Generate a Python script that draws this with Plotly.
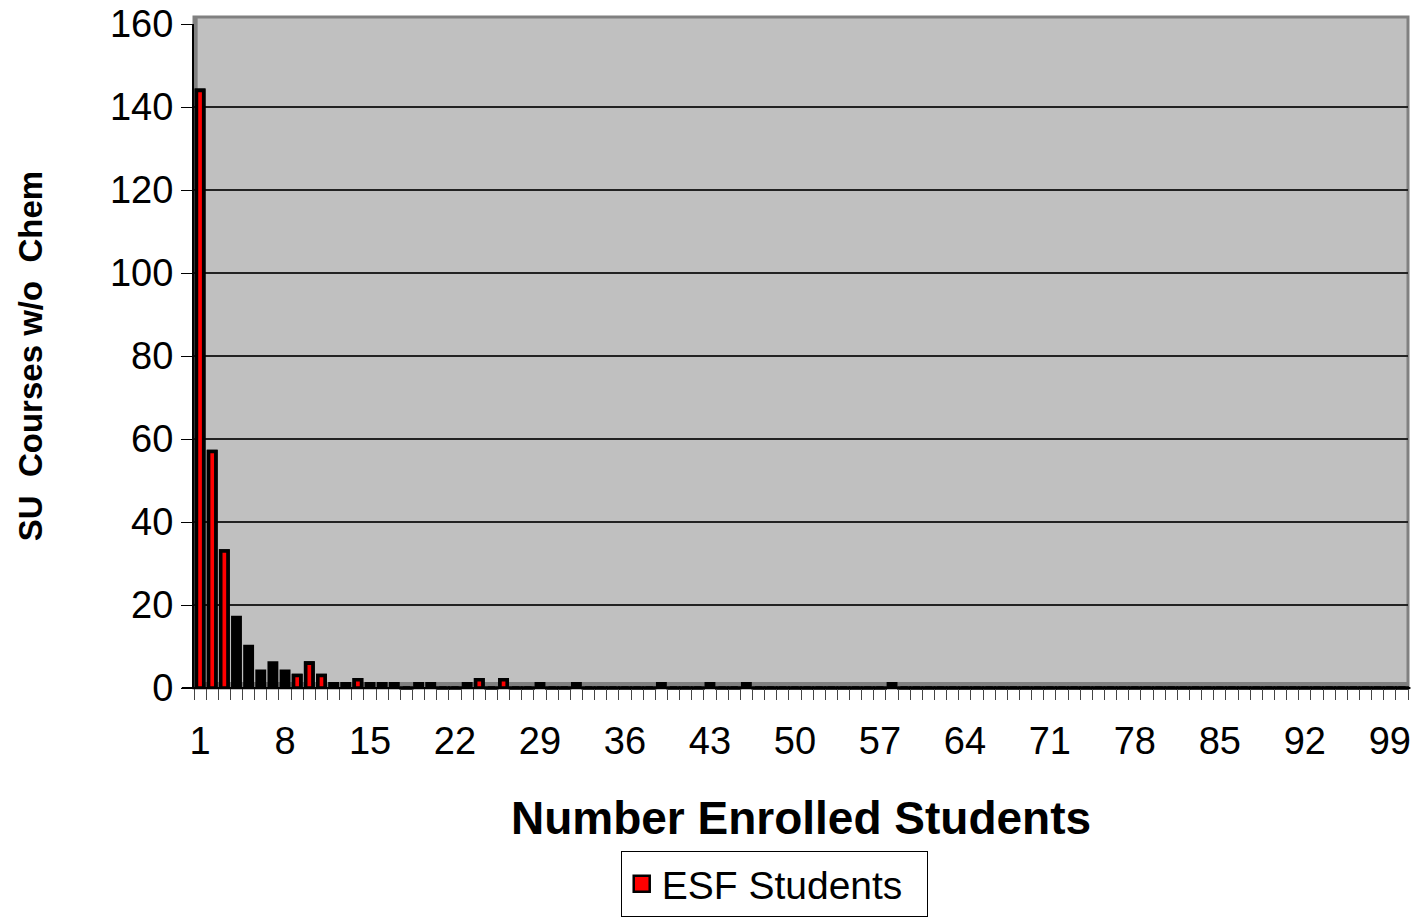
import plotly.graph_objects as go

# ---- data ----
enrolled = list(range(1, 101))
courses = [144, 57, 33, 17, 10, 4, 6, 4, 3, 6,
           3, 1, 1, 2, 1, 1, 1, 0, 1, 1,
           0, 0, 1, 2, 0, 2, 0, 0, 1, 0,
           0, 1, 0, 0, 0, 0, 0, 0, 1, 0,
           0, 0, 1, 0, 0, 1, 0, 0, 0, 0,
           0, 0, 0, 0, 0, 0, 0, 1, 0, 0] + [0] * 40
esf_categories = [1, 2, 3, 9, 10, 11, 14, 24, 26]
esf_values = [courses[i - 1] for i in esf_categories]
x_tick_labels = list(range(1, 101, 7))
y_tick_values = list(range(0, 161, 20))

zero_x = [x for x, v in zip(enrolled, courses) if v == 0]
zero_y = [0 for _ in zero_x]

FONT = "Liberation Sans, Arial, sans-serif"
BAR_W = 0.6
LINE_W = 3.6

fig = go.Figure()
fig.add_trace(go.Bar(
    x=enrolled, y=courses, width=BAR_W, showlegend=False,
    marker=dict(color="black", line=dict(color="black", width=LINE_W)),
    hoverinfo="x+y",
))
fig.add_trace(go.Bar(
    x=esf_categories, y=esf_values, width=BAR_W, name="ESF Students",
    showlegend=False,
    marker=dict(color="#FF0000", line=dict(color="black", width=LINE_W)),
))
# zero-height columns drawn as flat slabs on the floor
fig.add_trace(go.Scatter(
    x=zero_x, y=zero_y, mode="markers", showlegend=False, cliponaxis=False,
    marker=dict(symbol="line-ew", size=10, line=dict(color="black", width=3.5)),
    hoverinfo="x+y",
))
# legend entry
fig.add_trace(go.Scatter(
    x=[None], y=[None], mode="markers", name="ESF Students",
    marker=dict(symbol="square", size=16, color="#FF0000",
                line=dict(color="black", width=2.5)),
))

# 3D-style back wall and floor
fig.add_shape(type="rect", xref="x domain", yref="y domain",
              x0=0, x1=1, y0=0, y1=1.0105,
              fillcolor="#C0C0C0", line=dict(color="#808080", width=3),
              layer="below")
fig.add_shape(type="rect", xref="x domain", yref="y domain",
              x0=0, x1=1, y0=0, y1=0.009,
              fillcolor="#808080", line=dict(width=0), layer="below")
fig.add_shape(type="rect", xref="x domain", yref="y domain",
              x0=0, x1=0.003, y0=0, y1=1.0105,
              fillcolor="#808080", line=dict(width=0), layer="below")
# extended category axis line
fig.add_shape(type="line", xref="x domain", yref="y domain",
              x0=-0.01, x1=1.002, y0=0, y1=0,
              line=dict(color="black", width=2), layer="above")

fig.update_layout(
    width=1417, height=917,
    margin=dict(l=194, r=9, t=24, b=229, autoexpand=False),
    paper_bgcolor="white", plot_bgcolor="rgba(0,0,0,0)",
    barmode="overlay",
    font=dict(family=FONT, color="black"),
    showlegend=True,
    legend=dict(orientation="h", x=0.3515, xanchor="left",
                y=-0.2455, yanchor="top",
                bordercolor="black", borderwidth=1, bgcolor="white",
                font=dict(size=39, family=FONT), itemwidth=30,
                entrywidth=260),
)
fig.update_xaxes(
    range=[0.5, 100.5], tickvals=x_tick_labels,
    ticktext=[str(v) for v in x_tick_labels],
    tickfont=dict(size=38, family=FONT),
    ticks="outside", ticklen=19, tickcolor="rgba(0,0,0,0)",
    minor=dict(ticks="outside", ticklen=11, tick0=0.5, dtick=1,
               tickcolor="#444", tickwidth=1, showgrid=False),
    showgrid=False, showline=False, zeroline=False,
    title=dict(text="Number Enrolled Students",
               font=dict(size=46, family=FONT, weight="bold"), standoff=41),
)
fig.update_yaxes(
    range=[0, 160], tickvals=y_tick_values,
    tickfont=dict(size=38, family=FONT),
    ticks="outside", ticklen=11, tickcolor="black", tickwidth=1,
    showline=True, linecolor="black", linewidth=2,
    showgrid=True, gridcolor="#222222", gridwidth=1.5, zeroline=False,
    title=dict(text="SU  Courses w/o  Chem",
               font=dict(size=33, family=FONT, weight="bold"), standoff=57),
)

fig.write_html("out.html")
